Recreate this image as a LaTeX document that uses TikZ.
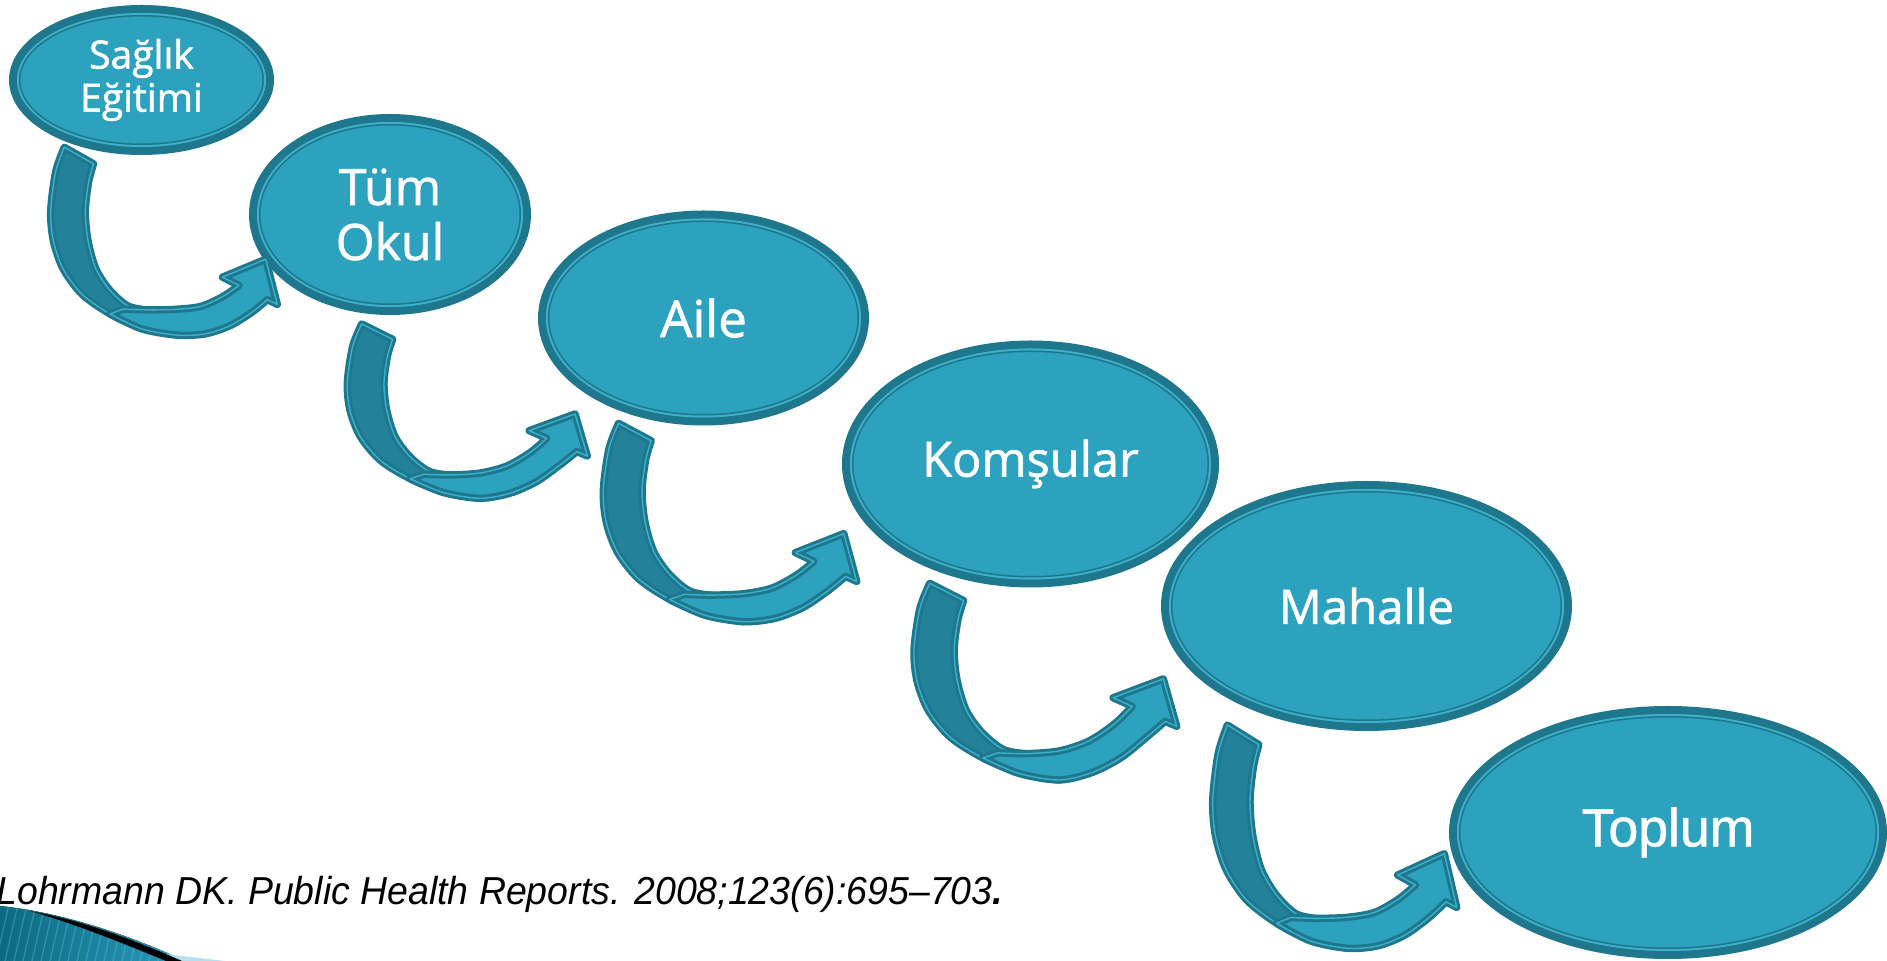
\documentclass[tikz,border=0pt]{standalone}
\usepackage{fontspec}
\usetikzlibrary{shapes.geometric}
\newfontfamily\bubfont[FakeBold=1.3]{Open Sans}
\newfontfamily\topfont[FakeBold=1.0]{Liberation Sans}
\newfontfamily\citefont[FakeStretch=0.96]{Liberation Sans}
\definecolor{tealfill}{HTML}{2CA2BE}
\definecolor{tealdark}{HTML}{1E778C}
\definecolor{teallight}{HTML}{3DB0CA}
\definecolor{backfill}{HTML}{23829A}
\definecolor{swooshdark}{HTML}{0B6A80}
\definecolor{swooshlight}{HTML}{2A9CC0}
\definecolor{swooshfade}{HTML}{B5DFEE}
\tikzset{
  bubble/.style={ellipse, fill=tealfill, draw=tealdark, line width=4pt, text=white,
    align=center, inner sep=0pt, outer sep=0pt},
  ringlight/.style={draw=teallight, line width=1pt},
  ringdark/.style={draw=tealdark, line width=0.75pt},
  arrowback/.style={fill=backfill, draw=tealdark, line width=1.5pt, double=teallight,
    double distance=0.7pt, line join=round},
  arrowfront/.style={fill=tealfill, draw=tealdark, line width=1.5pt, double=teallight,
    double distance=0.7pt, line join=round},
  citestyle/.style={anchor=base west, inner sep=0pt, text=black,
    font=\citefont\itshape\fontsize{19.5}{22}\selectfont},
}
\newcommand\bubble[7]{%
  \node[bubble, minimum width={(#4-4)*1pt}, minimum height={(#5-4)*1pt}, font={#6}] (#1) at (#2,#3) {#7};
  \draw[ringlight] (#1.center) ellipse [x radius={#4-9}, y radius={#5-9}];
  \draw[ringdark] (#1.center) ellipse [x radius={#4-10.75}, y radius={#5-10.75}];
}
\newcommand\curvarrow[5]{%
  \begin{scope}[shift={(#1,#2)}, xscale=#3, yscale=#4]
    \path[arrowback] plot[smooth] coordinates {(0.060,0.000) (0.022,0.130) (0.000,0.340) (0.012,0.500) (0.056,0.650) (0.140,0.785) (0.265,0.890) (0.400,0.962) (0.553,1.0)}
      -- plot[smooth] coordinates {(0.45,0.87) (0.344,0.847) (0.261,0.761) (0.199,0.646) (0.164,0.493) (0.153,0.340) (0.167,0.187) (0.189,0.088)} -- cycle;
    \path[arrowfront] plot[smooth] coordinates {(0.262,0.888) (0.400,0.967) (0.553,1.0) (0.678,{0.971+0.3*#5}) (0.789,{0.904+0.6*#5}) (0.886,{0.809+0.9*#5}) (0.956,{0.732+#5})}
      -- (1.0,{0.757+#5}) -- (0.949,{0.516+#5}) -- (0.758,{0.612+#5})
      -- plot[smooth] coordinates {(0.831,{0.656+#5}) (0.761,{0.738+0.7*#5}) (0.664,{0.815+0.4*#5}) (0.553,{0.855+0.1*#5}) (0.428,0.866) (0.320,0.862)} -- cycle;
  \end{scope}
}
\begin{document}
\begin{tikzpicture}[x=0.5pt, y=-0.5pt]
\useasboundingbox (0,0) rectangle (1887,961);
% bottom-left swoosh
\begin{scope}
  \clip (0,906) .. controls (60,912) and (130,935) .. (185,961) -- (0,961) -- cycle;
  \fill[left color=swooshdark, right color=swooshlight] (0,900) rectangle (190,961);
  \foreach \sx in {-40,-31,...,190} {
    \draw[swooshlight!60!white, opacity=0.35, line width=0.6pt] (\sx,961) -- (\sx+14,900);
  }
\end{scope}
\fill[swooshfade] (140,950) .. controls (170,955) and (200,958) .. (225,961) -- (170,961) -- cycle;
\fill[black] (30,911) .. controls (80,920) and (130,938) .. (182,961) -- (166,961) .. controls (120,942) and (75,924) .. (30,911) -- cycle;
% bubbles
\bubble{saglik}{141.5}{80}{132.5}{75}{\bubfont\fontsize{19.5}{21.5}\selectfont}{Sağlık\\Eğitimi}
\bubble{tumokul}{390}{214.5}{141}{100.5}{\bubfont\fontsize{25}{27.5}\selectfont}{Tüm\\Okul}
\bubble{aile}{703.5}{318}{165.5}{107.5}{\bubfont\fontsize{25.5}{28}\selectfont}{Aile}
\bubble{komsular}{1030.5}{464}{188.5}{123.5}{\bubfont\fontsize{24.3}{28}\selectfont}{Komşular}
\bubble{mahalle}{1366.5}{606}{205.5}{125}{\bubfont\fontsize{23.7}{28}\selectfont}{Mahalle}
\bubble{toplum}{1668}{832.5}{219}{126.5}{\topfont\fontsize{26.8}{30}\selectfont}{Toplum}
% curved arrows
\curvarrow{50.7}{147.3}{226.6}{187.7}{0.08}
\curvarrow{347.3}{324}{240}{174.3}{0}
\curvarrow{603.3}{423.3}{253.4}{198.4}{0.04}
\curvarrow{914}{583.3}{262.7}{196.7}{-0.03}
\curvarrow{1212.7}{725}{244}{223.3}{0.06}
% citation
\node[citestyle] (cite) at (-4,905) {Lohrmann DK. Public Health Reports. 2008;123(6):695–703\textbf{.}};
\end{tikzpicture}
\end{document}
